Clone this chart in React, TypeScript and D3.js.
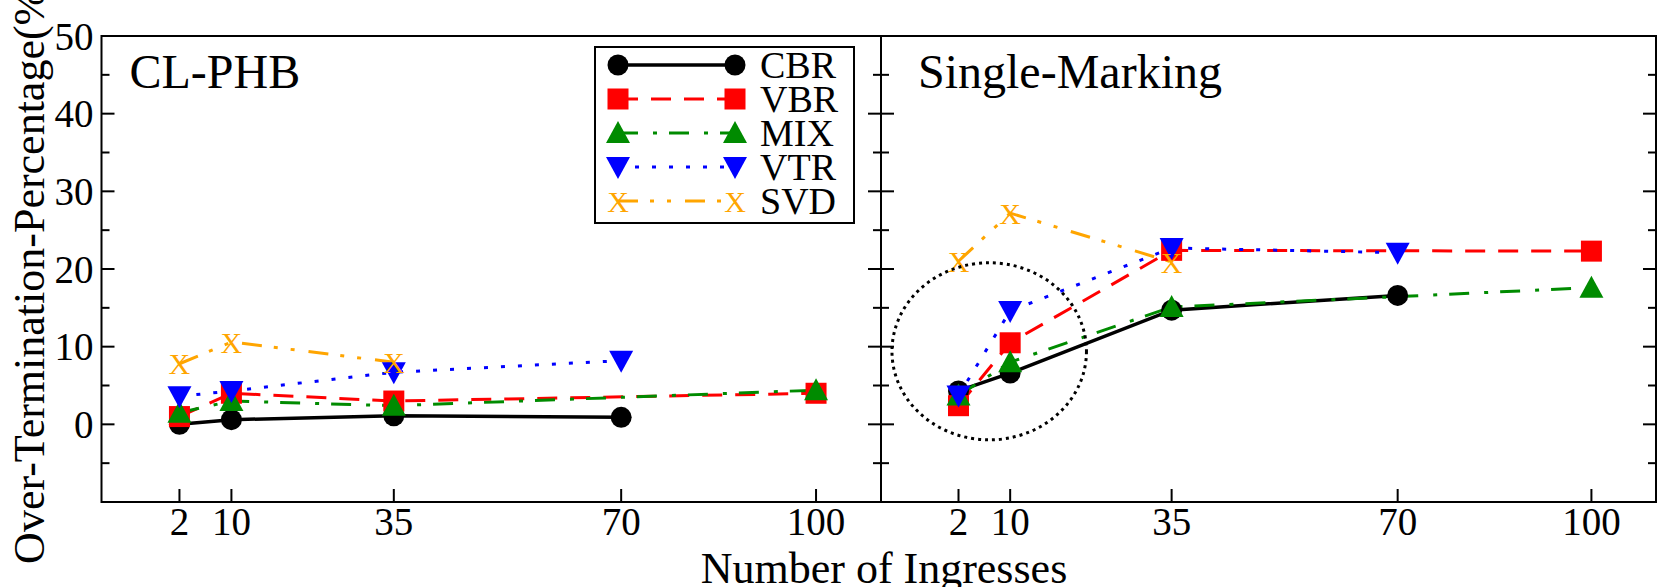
import * as d3 from "d3";

// x positions (number of ingresses)
const ingresses = [2, 10, 35, 70, 100];
const yMajor = [-10, 0, 10, 20, 30, 40, 50];
const yLabels = [0, 10, 20, 30, 40, 50];
const yMinor = [-5, 5, 15, 25, 35, 45];

// CL-PHB panel (null = no run at that point)
const clCBR = [0.0, 0.6, 1.1, 0.9, null];
const clVBR = [1.0, 4.0, 3.0, null, 4.0];
const clMIX = [1.5, 3.0, 2.4, null, 4.4];
const clVTR = [3.6, 4.3, 6.7, 8.2, null];
const clSVD = [7.8, 10.6, 8.0, null, null];

// Single-Marking panel
const smCBR = [4.3, 6.6, 14.7, 16.6, null];
const smVBR = [2.4, 10.5, 22.4, null, 22.3];
const smMIX = [3.7, 8.0, 15.1, null, 17.6];
const smVTR = [3.7, 14.6, 22.7, 22.1, null];
const smSVD = [21.0, 27.2, 20.9, null, null];

const seriesNames = ["CBR", "VBR", "MIX", "VTR", "SVD"];
const colors = ["#000000", "#ff0000", "#008b00", "#0000ff", "#ffa500"];
const dashes = ["", "20,13", "20,15,4,12", "4,13", "20,12,4,13,4,14"];

// dotted circle annotation, in data units of the right panel
const noteCx = 7, noteCy = 9.4, noteRx = 15, noteRy = 11.4;

const serif = { fontFamily: "Liberation Serif" };

const top = 36, bottom = 502;
const y = d3.scaleLinear().domain([-10, 50]).range([bottom, top]);

type Val = number | null;

function Marker({ kind, x, y: cy }: { kind: number; x: number; y: number }) {
  const c = colors[kind];
  if (kind === 0) return <circle cx={x} cy={cy} r={10.5} fill={c} />;
  if (kind === 1) return <rect x={x - 10.5} y={cy - 10.5} width={21} height={21} fill={c} />;
  if (kind === 2) {
    const p = d3.path();
    p.moveTo(x, cy - 12); p.lineTo(x + 12, cy + 10); p.lineTo(x - 12, cy + 10); p.closePath();
    return <path d={p.toString()} fill={c} />;
  }
  if (kind === 3) {
    const p = d3.path();
    p.moveTo(x - 12, cy - 10); p.lineTo(x + 12, cy - 10); p.lineTo(x, cy + 12); p.closePath();
    return <path d={p.toString()} fill={c} />;
  }
  return (
    <text x={x} y={cy} dy="0.35em" textAnchor="middle" fill={c} style={serif} fontSize={30}>X</text>
  );
}

function Panel({ x0, x1, title, sets, labels }: { x0: number; x1: number; title: string; sets: Val[][]; labels: boolean }) {
  const x = d3.scaleLinear().domain([-10, 110]).range([x0, x1]);
  const line = d3.line<[number, number]>().x(d => x(d[0])).y(d => y(d[1]));
  return (
    <g>
      {sets.map((vals, k) => {
        const pts = ingresses.map((g, i) => [g, vals[i]] as [number, Val]).filter(d => d[1] !== null) as [number, number][];
        return (
          <path key={k} d={line(pts) || ""} fill="none" stroke={colors[k]} strokeWidth={k === 0 ? 3.5 : 3} strokeDasharray={dashes[k]} />
        );
      })}
      {sets.map((vals, k) => (
        <g key={"m" + k}>
          {ingresses.map((g, i) => vals[i] === null ? null : <Marker key={i} kind={k} x={x(g)} y={y(vals[i] as number)} />)}
        </g>
      ))}
      <rect x={x0} y={top} width={x1 - x0} height={bottom - top} fill="none" stroke="#000" strokeWidth={2} />
      {yMajor.map(v => (
        <g key={"M" + v}>
          <line x1={x0} x2={x0 + 13} y1={y(v)} y2={y(v)} stroke="#000" strokeWidth={2} />
          <line x1={x1} x2={x1 - 13} y1={y(v)} y2={y(v)} stroke="#000" strokeWidth={2} />
        </g>
      ))}
      {yMinor.map(v => (
        <g key={"m" + v}>
          <line x1={x0} x2={x0 + 8} y1={y(v)} y2={y(v)} stroke="#000" strokeWidth={2} />
          <line x1={x1} x2={x1 - 8} y1={y(v)} y2={y(v)} stroke="#000" strokeWidth={2} />
        </g>
      ))}
      {ingresses.map(g => (
        <g key={"x" + g}>
          <line x1={x(g)} x2={x(g)} y1={bottom} y2={bottom - 13} stroke="#000" strokeWidth={2} />
          <text x={x(g)} y={535} textAnchor="middle" style={serif} fontSize={39}>{g}</text>
        </g>
      ))}
      {labels && yLabels.map(v => (
        <text key={"yl" + v} x={x0 - 8} y={y(v)} dy="0.35em" textAnchor="end" style={serif} fontSize={39}>{v}</text>
      ))}
      <text x={x0 + (labels ? 28 : 37)} y={88} style={serif} fontSize={48}>{title}</text>
    </g>
  );
}

function Legend() {
  const bx = 595, by = 47, bw = 259, bh = 176;
  return (
    <g>
      <rect x={bx} y={by} width={bw} height={bh} fill="#fff" stroke="#000" strokeWidth={2} />
      {seriesNames.map((name, k) => {
        const cy = 65 + k * 34;
        return (
          <g key={name}>
            <line x1={618} x2={735} y1={cy} y2={cy} stroke={colors[k]} strokeWidth={k === 0 ? 3.5 : 3} strokeDasharray={dashes[k]} />
            <Marker kind={k} x={618} y={cy} />
            <Marker kind={k} x={735} y={cy} />
            <text x={760} y={cy + 13} style={serif} fontSize={38}>{name}</text>
          </g>
        );
      })}
    </g>
  );
}

export default function App() {
  const xRight = d3.scaleLinear().domain([-10, 110]).range([879, 1657]);
  return (
    <svg width={1662} height={587} style={{ position: "absolute", left: 0, top: 0, background: "#fff" }}>
      <rect width={1662} height={587} fill="#fff" />
      <Panel x0={101.5} x1={881} title="CL-PHB" sets={[clCBR, clVBR, clMIX, clVTR, clSVD]} labels={true} />
      <Panel x0={881} x1={1656} title="Single-Marking" sets={[smCBR, smVBR, smMIX, smVTR, smSVD]} labels={false} />
      <ellipse cx={xRight(noteCx)} cy={y(noteCy)} rx={xRight(noteCx + noteRx) - xRight(noteCx)} ry={y(noteCy - noteRy) - y(noteCy)}
        fill="none" stroke="#000" strokeWidth={3} strokeDasharray="3,4" />
      <Legend />
      <text transform="translate(44,269) rotate(-90)" textAnchor="middle" style={serif} fontSize={44}>Over-Termination-Percentage(%)</text>
      <text x={884} y={583} textAnchor="middle" style={serif} fontSize={44}>Number of Ingresses</text>
    </svg>
  );
}
